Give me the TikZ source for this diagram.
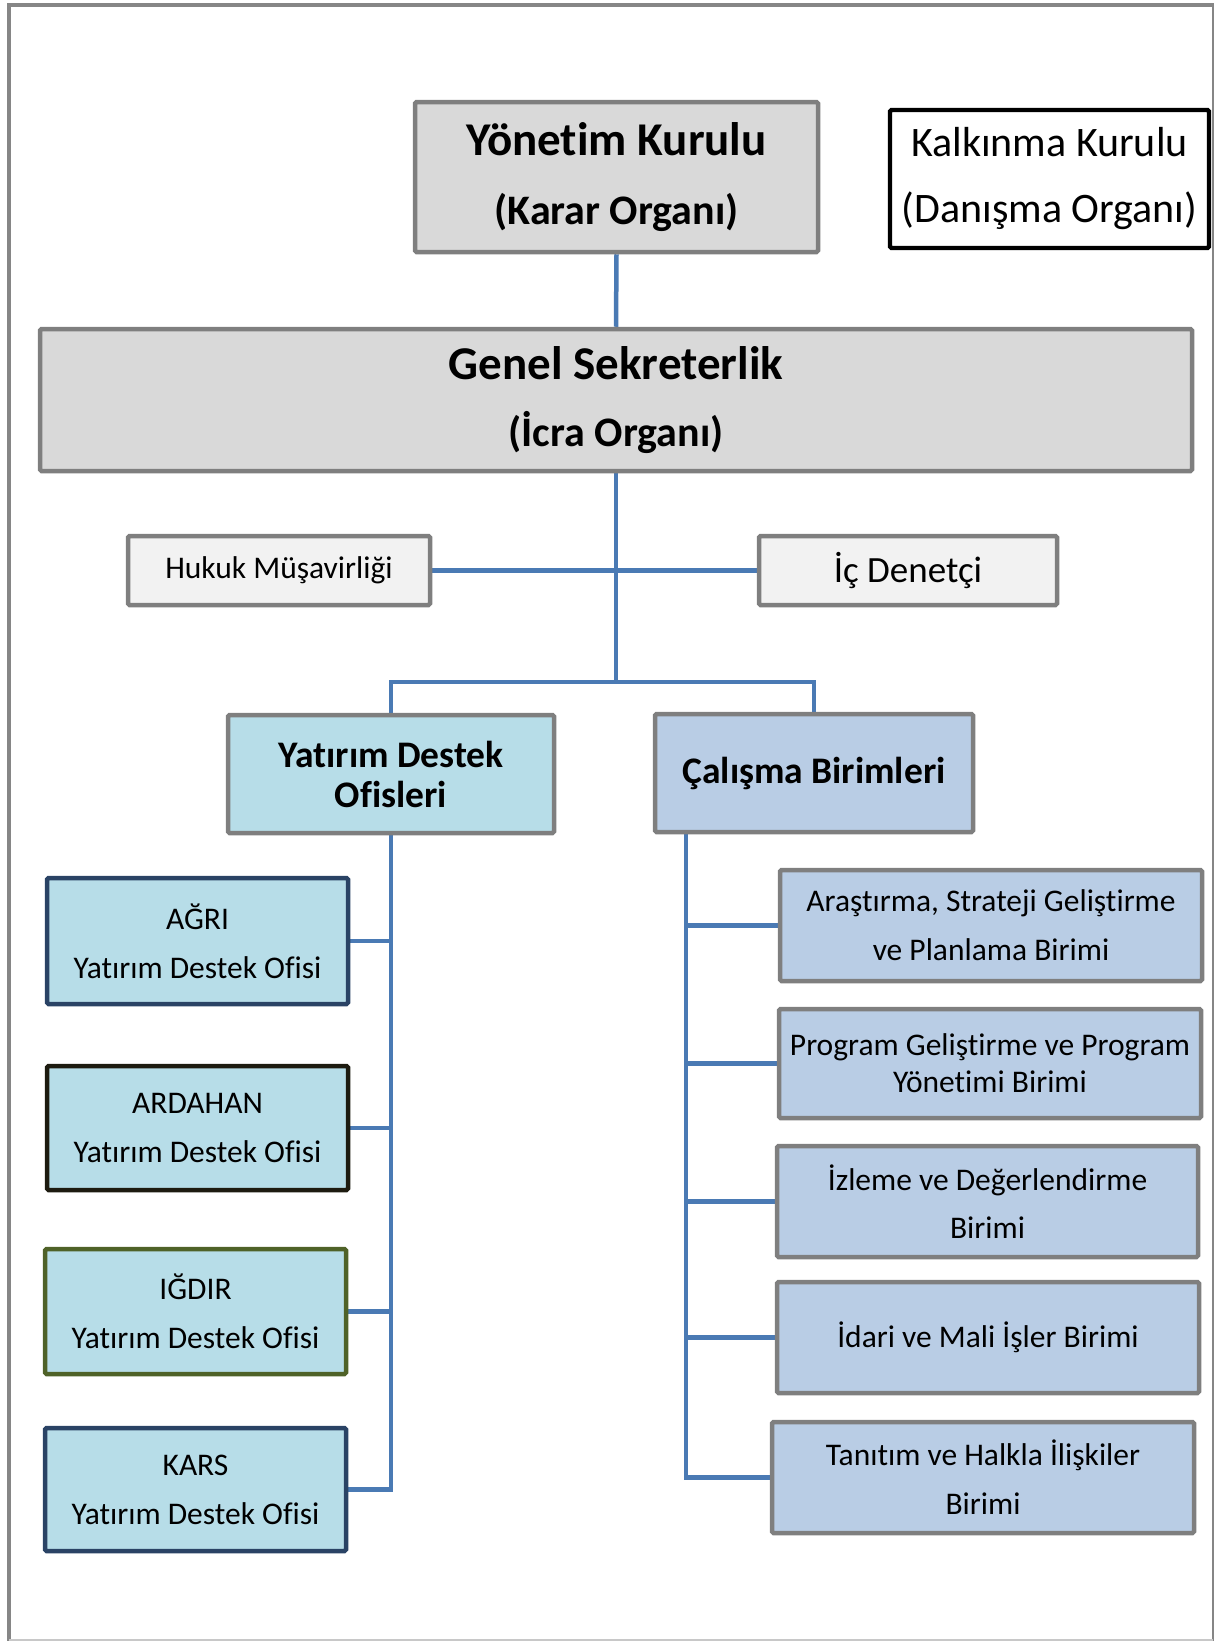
\documentclass[tikz,border=0pt]{standalone}
\usepackage{fontspec}
\setmainfont{Carlito}[RawFeature={-liga;-clig;-calt;-dlig}]
\usetikzlibrary{backgrounds}
\definecolor{boxgray}{HTML}{7F7F7F}
\definecolor{framegray}{HTML}{868686}
\definecolor{framelight}{HTML}{C8C8C8}
\definecolor{topfill}{HTML}{D9D9D9}
\definecolor{paleFill}{HTML}{F2F2F2}
\definecolor{ydoFill}{HTML}{B7DDE8}
\definecolor{unitFill}{HTML}{B9CDE5}
\definecolor{linecol}{HTML}{4A7AB4}
\definecolor{navyB}{HTML}{2A4365}
\definecolor{blackB}{HTML}{1D1B10}
\definecolor{oliveB}{HTML}{4F6228}
\begin{document}
\begin{tikzpicture}[x=1pt,y=-1pt,
  box/.style={draw=boxgray, line width=4.5pt, rounded corners=1.5pt, align=center, inner sep=0pt, text=black},
  topbox/.style={box, fill=topfill},
  palebox/.style={box, fill=paleFill},
  ydobox/.style={box, fill=ydoFill},
  unitbox/.style={box, fill=unitFill},
  bodyfont/.style={font=\fontsize{31.5}{49}\selectfont},
  conn/.style={draw=linecol, line width=4.5pt}]
\useasboundingbox (0,0) rectangle (1219,1641);
% frame
\draw[framegray, line width=4pt] (9,3) -- (9,1641);
\draw[framegray, line width=4pt] (7,5) -- (1214,5);
\draw[framegray, line width=2pt] (1213,4) -- (1213,1641);
\draw[framelight, line width=1.5pt] (9,1640) -- (1213,1640);

% top
\node[topbox, minimum width=403, minimum height=150, font=\fontsize{47}{70}\selectfont\bfseries] (yk) at (616.5,177)
  {\raisebox{-3pt}{Yönetim Kurulu}\\ {\fontsize{42}{70}\selectfont\raisebox{-2pt}{(Karar Organı)}}};
\node[box, draw=black, fill=white, line width=4.3pt, minimum width=319, minimum height=138, font=\fontsize{42}{66}\selectfont] (kk) at (1049.5,179)
  {Kalkınma Kurulu\\ (Danışma Organı)};
\node[topbox, minimum width=1152, minimum height=142, font=\fontsize{47}{68}\selectfont\bfseries] (gs) at (616,400)
  {\raisebox{-3pt}{Genel Sekreterlik}\\ {\fontsize{42}{68}\selectfont\raisebox{-2pt}{(İcra Organı)}}};
\node[palebox, minimum width=302, minimum height=69, font=\fontsize{31.5}{40}\selectfont] (hm) at (279,570.5) {Hukuk Müşavirliği};
\node[palebox, minimum width=298, minimum height=69, font=\fontsize{37}{40}\selectfont] (id) at (908,570.5) {İç Denetçi};

% second level
\node[ydobox, minimum width=326, minimum height=118, font=\fontsize{37.5}{40}\selectfont\bfseries] (ydo) at (391,774) {Yatırım Destek\\ Ofisleri};
\node[unitbox, minimum width=318, minimum height=118, font=\fontsize{37.5}{40}\selectfont\bfseries] (cb) at (814,773) {Çalışma Birimleri};

% offices
\node[ydobox, draw=navyB, minimum width=301, minimum height=126, bodyfont] (agri) at (197.5,941) {AĞRI\\ Yatırım Destek Ofisi};
\node[ydobox, draw=blackB, minimum width=301, minimum height=124, bodyfont] (ardahan) at (197.5,1128) {ARDAHAN\\ Yatırım Destek Ofisi};
\node[ydobox, draw=oliveB, minimum width=301, minimum height=125, bodyfont] (igdir) at (195.5,1311.5) {IĞDIR\\ Yatırım Destek Ofisi};
\node[ydobox, draw=navyB, minimum width=301, minimum height=123, bodyfont] (kars) at (195.5,1489.5) {KARS\\ Yatırım Destek Ofisi};

% units
\node[unitbox, minimum width=422, minimum height=111, bodyfont] (arast) at (991,925.5) {Araştırma, Strateji Geliştirme\\ ve Planlama Birimi};
\node[unitbox, minimum width=422, minimum height=109, font=\fontsize{31.5}{37}\selectfont] (prog) at (990,1063.5) {Program Geliştirme ve Program\\ Yönetimi Birimi};
\node[unitbox, minimum width=421, minimum height=111, font=\fontsize{31.5}{48}\selectfont] (izleme) at (987.5,1201.5) {İzleme ve Değerlendirme\\ Birimi};
\node[unitbox, minimum width=422, minimum height=111, bodyfont] (idari) at (988,1337.5) {İdari ve Mali İşler Birimi};
\node[unitbox, minimum width=422, minimum height=111, bodyfont] (tanitim) at (983,1477.5) {Tanıtım ve Halkla İlişkiler\\ Birimi};

\coordinate (br) at (616,682);
\coordinate (cbl) at (686,832);

\begin{pgfonlayer}{background}
\draw[conn] (yk.south) -- (gs.north);
\draw[conn] (gs.south) -- (br);
\draw[conn] (hm.east) -- (id.west);
\draw[conn] (ydo.north) |- (br) -| (cb.north);
\draw[conn] (ydo.south) |- (kars.east);
\draw[conn] (agri.east) -- (agri.east -| ydo.south);
\draw[conn] (ardahan.east) -- (ardahan.east -| ydo.south);
\draw[conn] (igdir.east) -- (igdir.east -| ydo.south);
\draw[conn] (cbl) |- (tanitim.west);
\draw[conn] (arast.west) -- (arast.west -| cbl);
\draw[conn] (prog.west) -- (prog.west -| cbl);
\draw[conn] (izleme.west) -- (izleme.west -| cbl);
\draw[conn] (idari.west) -- (idari.west -| cbl);
\end{pgfonlayer}
\end{tikzpicture}
\end{document}
